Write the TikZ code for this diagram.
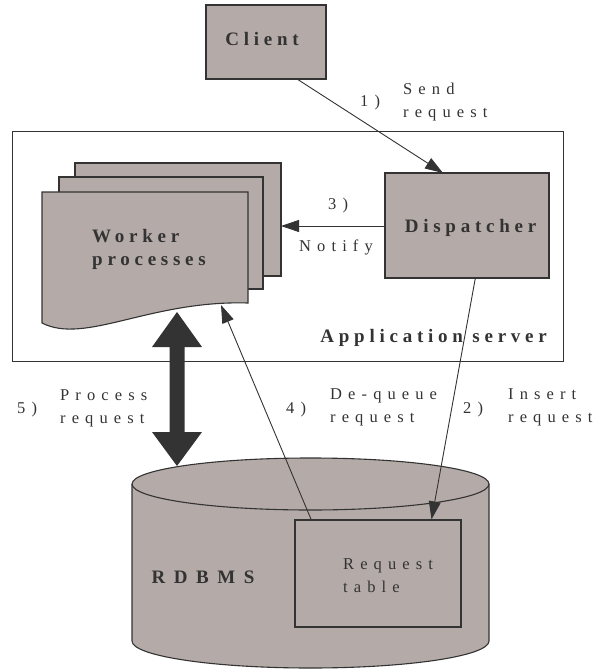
\documentclass[tikz,border=0pt]{standalone}
\usepackage{fontspec}
\setmainfont{Liberation Serif}
\newfontfamily\lblfont[LetterSpace=37]{Liberation Serif}
\newfontfamily\boldfont[LetterSpace=25]{Liberation Serif Bold}
\newfontfamily\wideboldfont[LetterSpace=45]{Liberation Serif Bold}
\usetikzlibrary{arrows.meta,calc}
\definecolor{boxfill}{RGB}{180,170,167}
\definecolor{ink}{RGB}{51,51,51}
\tikzset{
  box/.style={draw=ink, fill=boxfill, line width=1.1pt},
  title/.style={font=\boldfont\fontsize{19}{23}\selectfont, text=ink, inner sep=0pt, align=left},
  lbl/.style={font=\lblfont\fontsize{16.5}{22.5}\selectfont, text=ink, inner sep=0pt, align=left},
  conn/.style={draw=ink, line width=0.9pt, -{Triangle[length=18pt,width=12pt]}},
}
\begin{document}
\begin{tikzpicture}[x=1pt,y=-1pt]
\useasboundingbox (0,0) rectangle (601,669);

% application server frame
\draw[ink, line width=1pt] (12,131) rectangle (563,361);
\node[title, anchor=base east] (appl) at (547,342) {Application server};

% client
\node[box, minimum width=120pt, minimum height=74pt, inner sep=0pt] (client) at (266,42) {};
\node[title, anchor=base] at (262,46) {Client};
\coordinate (cout) at (297,79);

% dispatcher
\node[box, minimum width=164pt, minimum height=105pt, inner sep=0pt] (disp) at (467,225.5) {};
\node[title, anchor=base] at (470.5,232) {Dispatcher};
\coordinate (din) at (443,173);

% worker process pages
\draw[box] (75,163) rectangle (281,276);
\draw[box] (59,177) rectangle (263,289);
\draw[box] (42,192) -- (248,192) -- (248,303)
  .. controls (150,300) and (85,345) .. (42,323) -- cycle;
\coordinate (wback) at (281,226);
\coordinate (wbottom) at (221,305);
\node[title, anchor=base west] (worker) at (92,265) {Worker\\processes};

% database cylinder
\fill[boxfill] (132,484) -- (132,641) arc[start angle=180, end angle=360, x radius=178.5pt, y radius=27pt]
  -- (489,484) -- cycle;
\draw[ink, line width=1.1pt] (132,484) -- (132,641) arc[start angle=180, end angle=360, x radius=178.5pt, y radius=27pt]
  -- (489,484);
\draw[ink, line width=1.1pt, fill=boxfill] (310.5,484) ellipse[x radius=178.5pt, y radius=26pt];
\node[title, font=\wideboldfont\fontsize{19}{23}\selectfont, anchor=base] (rdbms) at (203,583) {RDBMS};

% request table
\node[draw=ink, line width=1.3pt, fill=boxfill, minimum width=166pt, minimum height=107pt, inner sep=0pt] (tbl) at (378,573.5) {};
\node[lbl, anchor=base west] at (343,592) {Request\\table};

% connectors
\draw[conn] (cout) -- (din);
\draw[conn] (disp.west |- wback) -- (wback);
\draw[conn] ($(disp.south west)!0.55!(disp.south east)$) -- ($(tbl.north west)!0.82!(tbl.north east)$);
\draw[conn] ($(tbl.north west)!0.1!(tbl.north east)$) -- (wbottom);

% thick two-way arrow between workers and database
\fill[ink] (177,312) -- (202,347) -- (184.5,347) -- (184.5,432) -- (202,432) -- (177,466)
  -- (152,432) -- (169.5,432) -- (169.5,347) -- (152,347) -- cycle;

% step labels
\node[lbl, anchor=base west] at (360,106) {1)};
\node[lbl, anchor=base west] at (403,117) {Send\\request};
\node[lbl, anchor=base west] at (328,209) {3)};
\node[lbl, anchor=base west] at (299,251) {Notify};
\node[lbl, anchor=base west] at (17,413) {5)};
\node[lbl, anchor=base west] at (60,423) {Process\\request};
\node[lbl, anchor=base west] at (286,413) {4)};
\node[lbl, anchor=base west] at (330,422) {De-queue\\request};
\node[lbl, anchor=base west] at (463,413) {2)};
\node[lbl, anchor=base west] at (508,422) {Insert\\request};
\end{tikzpicture}
\end{document}
